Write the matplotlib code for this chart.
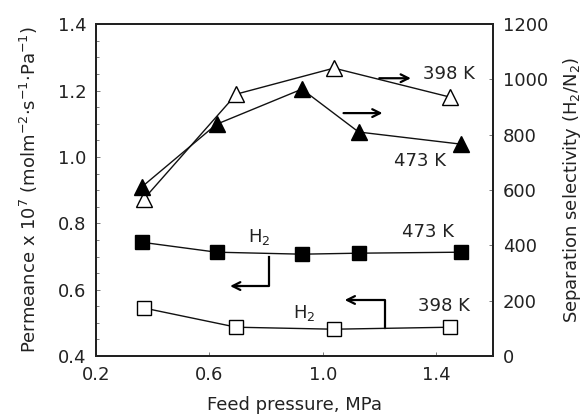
import matplotlib
matplotlib.use("Agg")
import matplotlib.pyplot as plt
from matplotlib.ticker import MultipleLocator

plt.rcParams['font.family'] = ['DejaVu Sans']
plt.rcParams['mathtext.fontset'] = 'dejavusans'

# Permeance of H2 (x1e7, mol m-2 s-1 Pa-1)
p_473_h2 = [0.361, 0.625, 0.926, 1.126, 1.488]
perm_473_h2 = [0.743, 0.713, 0.707, 0.710, 0.713]
p_398_h2 = [0.368, 0.695, 1.039, 1.449]
perm_398_h2 = [0.545, 0.487, 0.481, 0.487]

# Separation selectivity H2/N2
p_398_sel = [0.368, 0.695, 1.039, 1.449]
sel_398 = [567, 947, 1041, 936]
p_473_sel = [0.361, 0.625, 0.926, 1.126, 1.488]
sel_473 = [611, 838, 965, 810, 766]

xticks = [0.2, 0.6, 1.0, 1.4]
yticks_left = [0.4, 0.6, 0.8, 1.0, 1.2, 1.4]
yticks_right = [0, 200, 400, 600, 800, 1000, 1200]

fig = plt.figure(figsize=(5.87, 4.16), dpi=100)
ax = fig.add_axes([0.1635, 0.144, 0.6765, 0.798])
ax2 = ax.twinx()

lc = '#111111'
tc = '#222222'
fs = 13

ax.plot(p_473_h2, perm_473_h2, '-s', color=lc, mfc='black', mec='black', ms=9.5, lw=1.0, clip_on=False, zorder=3)
ax.plot(p_398_h2, perm_398_h2, '-s', color=lc, mfc='white', mec='black', ms=9.5, lw=1.0, clip_on=False, zorder=3)
ax2.plot(p_398_sel, sel_398, '-^', color=lc, mfc='white', mec='black', ms=11, lw=1.0, clip_on=False, zorder=3)
ax2.plot(p_473_sel, sel_473, '-^', color=lc, mfc='black', mec='black', ms=11, lw=1.0, clip_on=False, zorder=3)

ax.set_xlim(0.2, 1.6)
ax.set_ylim(0.4, 1.4)
ax2.set_ylim(0, 1200)
ax.set_xticks(xticks)
ax.set_xticklabels([f"{v:.1f}" for v in xticks], fontsize=fs, color=tc)
ax.set_yticks(yticks_left)
ax.set_yticklabels([f"{v:.1f}" for v in yticks_left], fontsize=fs, color=tc)
ax.yaxis.set_minor_locator(MultipleLocator(0.05))
ax2.set_yticks(yticks_right)
ax2.set_yticklabels([str(v) for v in yticks_right], fontsize=fs, color=tc)

ax.tick_params(axis='both', which='both', direction='in', length=3, width=0.6, color='#666666', pad=7)
ax.tick_params(axis='y', which='minor', length=2)
ax2.tick_params(axis='y', direction='in', length=3, width=0.6, color='#666666', pad=7)
for a in (ax, ax2):
    for s in a.spines.values():
        s.set_linewidth(1.4)
        s.set_color('#222222')

ax.set_xlabel('Feed pressure, MPa', fontsize=fs, labelpad=9, color=tc)
ax.set_ylabel(r'Permeance x 10$^{7}$ (molm$^{-2}$$\cdot$s$^{-1}$$\cdot$Pa$^{-1}$)', fontsize=fs, labelpad=13, color=tc)
ax2.set_ylabel(r'Separation selectivity (H$_2$/N$_2$)', fontsize=fs, labelpad=9, color=tc)

# Annotations (left-axis data coordinates)
arrow_kw = dict(arrowstyle='->', color='black', lw=1.6, mutation_scale=14)
ax.text(1.446, 1.249, '398 K', fontsize=fs, ha='center', va='center', color=tc)
ax.annotate('', xy=(1.320, 1.237), xytext=(1.189, 1.237), arrowprops=arrow_kw)
ax.annotate('', xy=(1.220, 1.132), xytext=(1.063, 1.132), arrowprops=arrow_kw)
ax.text(1.344, 0.987, '473 K', fontsize=fs, ha='center', va='center', color=tc)
ax.text(1.372, 0.773, '473 K', fontsize=fs, ha='center', va='center', color=tc)
ax.text(0.775, 0.758, r'H$_2$', fontsize=fs, ha='center', va='center', color=tc)
ax.plot([0.811, 0.811, 0.700], [0.698, 0.611, 0.611], color='black', lw=1.6)
ax.annotate('', xy=(0.663, 0.611), xytext=(0.72, 0.611), arrowprops=arrow_kw)
ax.text(0.933, 0.530, r'H$_2$', fontsize=fs, ha='center', va='center', color=tc)
ax.plot([1.218, 1.218, 1.10], [0.484, 0.569, 0.569], color='black', lw=1.6)
ax.annotate('', xy=(1.067, 0.569), xytext=(1.12, 0.569), arrowprops=arrow_kw)
ax.text(1.425, 0.551, '398 K', fontsize=fs, ha='center', va='center', color=tc)

fig.savefig('out.png', dpi=100)
